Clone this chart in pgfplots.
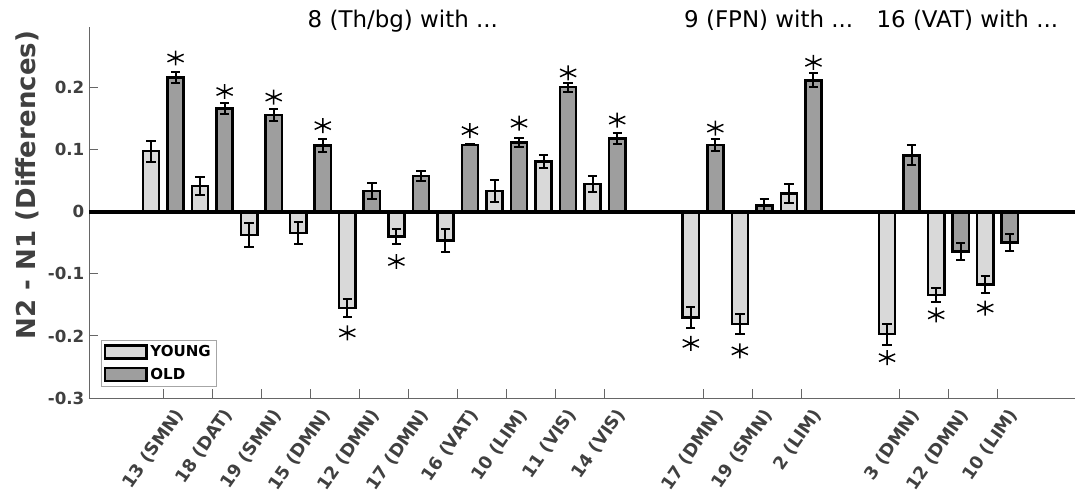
\documentclass[border=0pt]{standalone}
\usepackage{pgfplots}
\pgfplotsset{compat=1.18}
\usepackage{pgfplotstable}
\usepackage{fontspec}
\setmainfont{DejaVu Sans}
\usetikzlibrary{plotmarks}

\definecolor{youngc}{gray}{0.85}
\definecolor{oldc}{gray}{0.62}
\definecolor{axisgray}{gray}{0.4}
\definecolor{labelgray}{gray}{0.25}

% group position, mean difference, error
\pgfplotstableread{
x   y       e
1   0.098   0.017
2   0.042   0.015
3   -0.037  0.019
4   -0.034  0.018
5   -0.155  0.014
6   -0.040  0.012
7   -0.046  0.018
8   0.034   0.018
9   0.081   0.010
10  0.045   0.0126
12  -0.170  0.017
13  -0.181  0.016
14  0.030   0.015
16  -0.197  0.017
17  -0.134  0.012
18  -0.117  0.013
}\youngtab

\pgfplotstableread{
x   y       e
1   0.217   0.0085
2   0.167   0.0085
3   0.156   0.010
4   0.107   0.0105
5   0.034   0.013
6   0.058   0.0086
7   0.108   0.001
8   0.112   0.0068
9   0.201   0.0073
10  0.118   0.009
12  0.108   0.010
13  0.010   0.011
14  0.212   0.0115
16  0.091   0.016
17  -0.064  0.014
18  -0.049  0.014
}\oldtab

\pgfplotsset{
  errstyle/.style={draw=none, mark=none, forget plot,
    error bars/.cd, y dir=both, y explicit,
    error bar style={line width=1.5pt, black, solid},
    error mark options={rotate=90, line width=1.5pt, mark size=3.5pt, black}},
  starstyle/.style={only marks, mark=asterisk, mark size=5.6pt, forget plot,
    mark options={xscale=1.25, line width=1.1pt, black}},
}

\begin{document}
\begin{tikzpicture}
\useasboundingbox (-66.75pt,-71.25pt) rectangle (741pt,298.5pt);
\begin{axis}[
  scale only axis,
  width=739.5pt, height=278.25pt,
  xmin=-0.514, xmax=19.58,
  ymin=-0.3, ymax=0.298,
  clip=false,
  axis x line=bottom, axis y line=left,
  axis line style={-, axisgray, line width=0.7pt},
  tick align=inside,
  major tick length=7pt,
  tick style={axisgray, line width=0.7pt},
  xtick={1,2,3,4,5,6,7,8,9,10,12,13,14,16,17,18},
  xticklabels={13 (SMN),18 (DAT),19 (SMN),15 (DMN),12 (DMN),17 (DMN),16 (VAT),10 (LIM),11 (VIS),14 (VIS),17 (DMN),19 (SMN),2 (LIM),3 (DMN),12 (DMN),10 (LIM)},
  ytick={-0.3,-0.2,-0.1,0,0.1,0.2},
  scaled y ticks=false,
  yticklabel style={/pgf/number format/fixed, /pgf/number format/precision=1},
  /pgf/number format/assume math mode=true,
  ticklabel style={font=\bfseries\fontsize{12.5}{14}\selectfont, text=labelgray},
  xticklabel style={font=\bfseries\fontsize{13.2}{15}\selectfont,
    xshift=13pt, yshift=-9pt, rotate=55, anchor=east, inner sep=1pt},
  ylabel={N2 - N1 (Differences)},
  ylabel style={font=\bfseries\fontsize{19.5}{22}\selectfont, text=labelgray,
    at={(axis description cs:-0.0624,0.574)}, anchor=center},
  legend style={at={(axis description cs:0.012,0.03)}, anchor=south west,
    draw=gray!70, line width=0.6pt, fill=white,
    font=\bfseries\fontsize{11.3}{13}\selectfont,
    row sep=3pt, inner sep=2pt, cells={anchor=west}},
]
\addplot[ybar, bar width=0.33, bar shift=-0.25, fill=youngc, draw=black, line width=1.9pt,
  legend image code/.code={\draw[fill=youngc, draw=black, line width=1.9pt] (0pt,-4.8pt) rectangle (31pt,4.8pt);}]
  table[x=x, y=y] {\youngtab};
\addlegendentry{YOUNG}
\addplot[ybar, bar width=0.33, bar shift=0.25, fill=oldc, draw=black, line width=1.9pt,
  legend image code/.code={\draw[fill=oldc, draw=black, line width=1.9pt] (0pt,-4.8pt) rectangle (31pt,4.8pt);}]
  table[x=x, y=y] {\oldtab};
\addlegendentry{OLD}

% error bars, at the bar centres
\addplot[errstyle] table[x expr=\thisrow{x}-0.25, y=y, y error=e] {\youngtab};
\addplot[errstyle] table[x expr=\thisrow{x}+0.25, y=y, y error=e] {\oldtab};

% zero line
\addplot[black, line width=2.6pt, forget plot] coordinates {(-0.514,0) (19.58,0)};

% significance stars
\addplot[starstyle] coordinates {
  (1.25,0.248) (2.25,0.194) (3.25,0.185) (4.25,0.139) (7.25,0.131)
  (8.25,0.143) (9.25,0.224) (10.25,0.148) (12.25,0.135) (14.25,0.241)};
\addplot[starstyle] coordinates {
  (4.75,-0.195) (5.75,-0.080) (11.75,-0.212) (12.75,-0.224)
  (15.75,-0.235) (16.75,-0.166) (17.75,-0.155)};

\node[anchor=base west, font=\fontsize{17.2}{19}\selectfont] at (axis cs:3.847,0.297) {8 (Th/bg) with ...};
\node[anchor=base west, font=\fontsize{17.2}{19}\selectfont] at (axis cs:11.52,0.297) {9 (FPN) with ...};
\node[anchor=base west, font=\fontsize{17.2}{19}\selectfont] at (axis cs:15.44,0.297) {16 (VAT) with ...};
\end{axis}
\end{tikzpicture}
\end{document}
